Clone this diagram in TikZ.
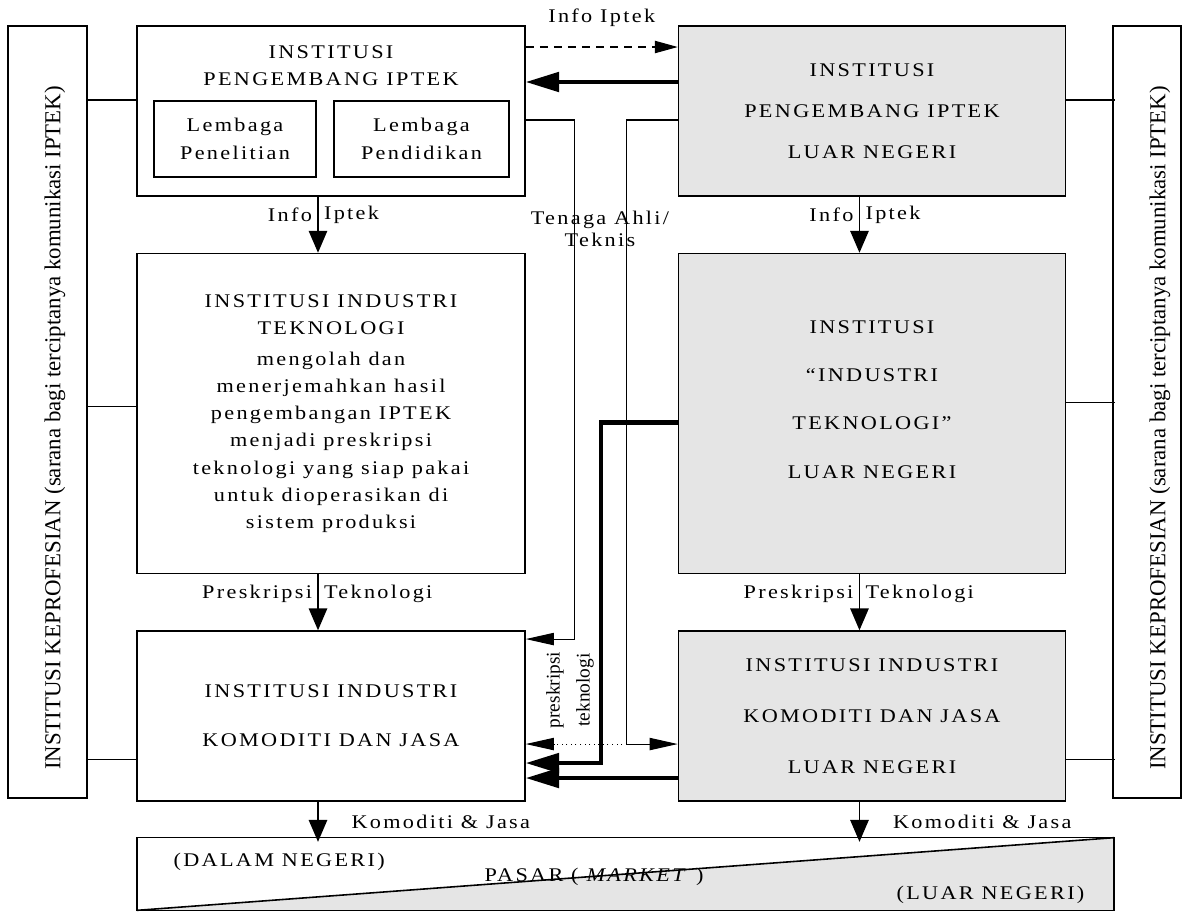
\documentclass[tikz,border=0pt]{standalone}
\usepackage{fontspec}
\setmainfont{Liberation Serif}
\newfontfamily\spacedfont[LetterSpace=12, FakeStretch=1.15]{Liberation Serif}
\usetikzlibrary{positioning, arrows.meta, calc}

\begin{document}
\begin{tikzpicture}[x=0.02cm, y=-0.02cm,
  box/.style={draw, line width=.9pt, inner sep=2pt, align=center, font=\spacedfont\fontsize{11}{15.5}\selectfont},
  gbox/.style={box, fill=gray!20},
  lbl/.style={font=\spacedfont\fontsize{11}{13}\selectfont, inner sep=3pt},
  conn/.style={line width=.6pt},
  arr/.style={line width=.9pt, -{Triangle[length=12.5pt, width=10.5pt]}},
  tarr/.style={line width=.6pt, -{Triangle[length=16pt, width=7pt]}},
  darr/.style={line width=.6pt, dash pattern=on 4.5pt off 3.5pt, -{Triangle[length=13pt, width=7pt]}},
  barr/.style={line width=2.4pt, -{Triangle[length=19pt, width=11pt]}},
]
  \useasboundingbox (0,0) rectangle (1189,912);

  % keprofesian
  \node[box, minimum width=1.58cm, minimum height=15.44cm] (kepL) at (47.5,412) {};
  \node[rotate=90, font=\fontsize{13}{14}\selectfont] (kepLtxt) at (55,428) {INSTITUSI KEPROFESIAN (sarana bagi terciptanya komunikasi IPTEK)};
  \node[box, minimum width=1.36cm, minimum height=15.44cm] (kepR) at (1147,412) {};
  \node[rotate=90, font=\fontsize{13}{14}\selectfont] (kepRtxt) at (1160,428) {INSTITUSI KEPROFESIAN (sarana bagi terciptanya komunikasi IPTEK)};

  % dalam negeri
  \node[box, minimum width=7.76cm, minimum height=3.4cm] (tl) at (331,111) {};
  \node[lbl, align=center, font=\spacedfont\fontsize{11}{15.5}\selectfont] (tltxt) at (331,66) {INSTITUSI\\PENGEMBANG IPTEK};
  \node[box, minimum width=3.24cm, minimum height=1.52cm, font=\spacedfont\fontsize{11}{16}\selectfont] (lp1) at (235,139) {Lembaga\\Penelitian};
  \node[box, minimum width=3.5cm, minimum height=1.52cm, font=\spacedfont\fontsize{11}{16}\selectfont] (lp2) at (421.5,139) {Lembaga\\Pendidikan};
  \node[box, minimum width=7.76cm, minimum height=6.4cm, below=1.12cm of tl] (ml) {INSTITUSI INDUSTRI\\TEKNOLOGI\\[2pt]
    mengolah dan\\menerjemahkan hasil\\pengembangan IPTEK\\menjadi preskripsi\\teknologi yang siap pakai\\untuk dioperasikan di\\sistem produksi};
  \node[box, minimum width=7.76cm, minimum height=3.4cm, below=1.12cm of ml, font=\spacedfont\fontsize{11}{28}\selectfont] (bl) {INSTITUSI INDUSTRI\\KOMODITI DAN JASA};

  % luar negeri
  \node[gbox, minimum width=7.74cm, minimum height=3.4cm, right=3.04cm of tl, font=\spacedfont\fontsize{11}{23.5}\selectfont] (tr) {INSTITUSI\\PENGEMBANG IPTEK\\LUAR NEGERI};
  \node[gbox, minimum width=7.74cm, minimum height=6.4cm, below=1.12cm of tr, font=\spacedfont\fontsize{11}{27.5}\selectfont] (mr) {INSTITUSI\\“INDUSTRI\\TEKNOLOGI”\\LUAR NEGERI\\[-19.5pt]\strut};
  \node[gbox, minimum width=7.74cm, minimum height=3.4cm, below=1.12cm of mr, font=\spacedfont\fontsize{11}{29}\selectfont] (br) {INSTITUSI INDUSTRI\\KOMODITI DAN JASA\\LUAR NEGERI};

  % pasar
  \path node[minimum width=19.54cm, minimum height=1.44cm, inner sep=0pt] (mkt) at (625.5,874) {};
  \fill[gray!20] (mkt.south west) -- (mkt.north east) -- (mkt.south east) -- cycle;
  \draw[line width=.9pt] (mkt.south west) rectangle (mkt.north east);
  \draw[line width=.9pt] (mkt.south west) -- (mkt.north east);
  \node[lbl, anchor=west] (dn) at (168,862) {(DALAM NEGERI)};
  \node[lbl] (pasar) at (594,877) {PASAR ( \textit{MARKET} )};
  \node[lbl, anchor=east] (ln) at (1090,895) {(LUAR NEGERI)};

  % garis ke keprofesian
  \draw[conn] ([yshift=.22cm]tl.west) -- ++(-50,0);
  \draw[conn] ([yshift=.14cm]ml.west) -- ++(-50,0);
  \draw[conn] ([yshift=-.86cm]bl.west) -- ++(-50,0);
  \draw[conn] ([yshift=.22cm]tr.east) -- ++(49,0);
  \draw[conn] ([yshift=.22cm]mr.east) -- ++(49,0);
  \draw[conn] ([yshift=-.86cm]br.east) -- ++(49,0);

  % aliran vertikal
  \draw[arr] ([xshift=-.26cm]tl.south) -- node[lbl, left, pos=.32] {Info} node[lbl, right, pos=.32] {Iptek} ([xshift=-.26cm]ml.north);
  \draw[arr] ([xshift=-.26cm]ml.south) -- node[lbl, left, pos=.35] {Preskripsi} node[lbl, right, pos=.35] {Teknologi} ([xshift=-.26cm]bl.north);
  \draw[arr] ([xshift=-.25cm]tr.south) -- node[lbl, left, pos=.32] {Info} node[lbl, right, pos=.32] {Iptek} ([xshift=-.25cm]mr.north);
  \draw[arr] ([xshift=-.25cm]mr.south) -- node[lbl, left, pos=.35] {Preskripsi} node[lbl, right, pos=.35] {Teknologi} ([xshift=-.25cm]br.north);
  \draw[arr] ([xshift=-.26cm]bl.south) -- node[lbl, right=.55cm] {Komoditi \& Jasa} ++(0,40);
  \draw[arr] ([xshift=-.25cm]br.south) -- node[lbl, right=.55cm] {Komoditi \& Jasa} ++(0,40);

  % aliran tengah
  \draw[darr] ([yshift=1.28cm]tl.east) -- node[lbl, above=.3cm] {Info Iptek} ([yshift=1.28cm]tr.west);
  \draw[barr] ([yshift=.58cm]tr.west) -- ([yshift=.58cm]tl.east);
  \draw[tarr] ([yshift=-.18cm]tl.east) -- ++(49,0) |- ([yshift=1.54cm]bl.east);
  \draw[tarr] ([yshift=-.18cm]tr.west) -- ++(-51,0) |- coordinate[pos=.5] (jb) ([yshift=-.56cm]br.west);
  \draw[tarr, dotted] (jb) -- ([yshift=-.56cm]bl.east);
  \draw[barr] ([yshift=-.18cm]mr.west) -- ++(-77,0) |- ([yshift=-.94cm]bl.east);
  \draw[barr] ([yshift=-1.24cm]br.west) -- ([yshift=-1.24cm]bl.east);
  \node[lbl, align=center, font=\spacedfont\fontsize{11}{12.5}\selectfont] (tenaga) at (600,229) {Tenaga Ahli/\\Teknis};
  \node[rotate=90, align=center, font=\fontsize{11}{17}\selectfont] (preskr) at (570,690) {preskripsi\\teknologi};
\end{tikzpicture}
\end{document}
